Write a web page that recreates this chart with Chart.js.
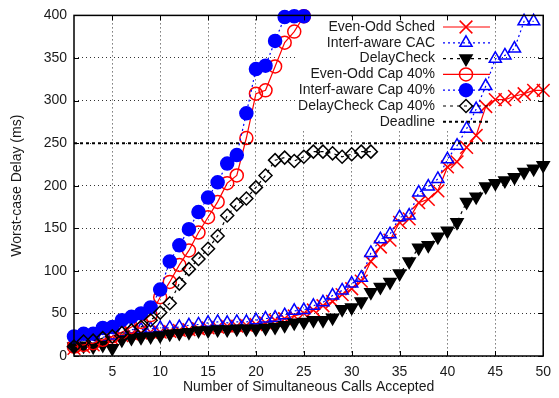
<!DOCTYPE html>
<html>
<head>
<meta charset="utf-8">
<script src="https://cdn.jsdelivr.net/npm/chart.js@4"></script>
<style>
  body { margin: 0; background: #fff; }
  canvas { display: block; }
</style>
</head>
<body>
<canvas id="myChart" width="559" height="398" style="width:559px;height:398px"></canvas>
<script>
// x values (number of calls accepted)
const calls = [1,2,3,4,5,6,7,8,9,10,11,12,13,14,15,16,17,18,19,20,21,22,23,24,25,
               26,27,28,29,30,31,32,33,34,35,36,37,38,39,40,41,42,43,44,45,46,47,48,49,50];

// worst-case delay (ms)
const evenOddSched = [9,11,13,17,20,24,26,27,28,28, 29,30,31,32,33,34,35,35,36,37,
                      39,42,44,47,50,54,59,64,72,79, 88,111,128,136,157,161,180,184,194,222,
                      228,245,259,293,301,301,305,308,312,312];
const interfCAC = [14,15,17,22,24,28,31,31,32,33, 33,34,36,37,39,40,39,40,40,42,
                   44,45,48,53,54,59,63,71,77,85, 92,121,137,143,163,165,192,199,208,231,
                   247,267,290,317,349,353,361,393,393];
const delayCheck = [11,12,11,13,9,19,21,22,23,24, 26,27,28,30,30,31,31,32,32,32,
                    33,34,36,39,40,42,42,45,55,57, 64,75,81,87,97,111,127,130,140,147,
                    157,181,187,199,203,206,210,216,220,224];
const evenOddCap = [11,13,15,19,23,28,34,40,48,69, 87,107,124,145,163,181,203,212,256,308,
                    312,340,368,381,399];
const interfCap = [23,26,26,33,34,42,46,50,57,78, 111,130,149,169,186,204,226,236,285,337,
                   341,370,398,399,399];
const delayCheckCap = [11,17,18,21,23,27,30,34,42,51, 62,85,102,114,126,141,165,178,185,198,
                       212,230,233,229,234,240,240,238,234,237, 240,240];
const deadline = [250, 250];
const deadlineX = [1, 50];

const xTicks = [5,10,15,20,25,30,35,40,45,50];
const yTicks = [0,50,100,150,200,250,300,350,400];

function pts(xs, ys) { return ys.map((v, i) => ({x: xs[i], y: v})); }

const TXT = '#1a1a1a';
const FONT = '"Liberation Sans", Arial, Helvetica, sans-serif';

// white key background, drawn over the grid but under the curves
const keyBack = {
  id: 'keyBack',
  beforeDatasetsDraw(chart) {
    const ctx = chart.ctx;
    ctx.save();
    ctx.fillStyle = '#fff';
    ctx.fillRect(298, 18, 196, 113);
    ctx.restore();
  }
};

// gnuplot-like frame, inward ticks and key
const frame = {
  id: 'frame',
  afterDatasetsDraw(chart) {
    const {ctx, chartArea: a, scales: {x, y}} = chart;
    ctx.save();
    ctx.strokeStyle = '#000';
    ctx.lineWidth = 1;
    ctx.setLineDash([]);
    ctx.beginPath();
    xTicks.forEach(v => {
      const px = Math.round(x.getPixelForValue(v)) + 0.5;
      ctx.moveTo(px, a.bottom); ctx.lineTo(px, a.bottom - 5);
      ctx.moveTo(px, a.top); ctx.lineTo(px, a.top + 5);
    });
    yTicks.forEach(v => {
      const py = Math.round(y.getPixelForValue(v)) + 0.5;
      ctx.moveTo(a.left, py); ctx.lineTo(a.left + 5, py);
      ctx.moveTo(a.right, py); ctx.lineTo(a.right - 5, py);
    });
    ctx.stroke();
    ctx.lineWidth = 1.5;
    ctx.strokeRect(a.left, a.top, a.right - a.left, a.bottom - a.top);

    // key
    ctx.font = '14px ' + FONT;
    ctx.textAlign = 'right';
    ctx.textBaseline = 'middle';
    chart.data.datasets.forEach((ds, i) => {
      const yy = 27 + i * 15.8;
      ctx.fillStyle = TXT;
      ctx.fillText(ds.label, 435, yy);
      ctx.strokeStyle = ds.borderColor;
      ctx.lineWidth = ds.borderWidth;
      ctx.setLineDash(ds.borderDash || []);
      ctx.beginPath();
      ctx.moveTo(443, yy); ctx.lineTo(490, yy);
      ctx.stroke();
      ctx.setLineDash([]);
      if (ds.pointRadius > 0) {
        ctx.fillStyle = ds.pointBackgroundColor;
        ctx.strokeStyle = ds.pointBorderColor;
        ctx.lineWidth = ds.pointBorderWidth;
        Chart.helpers.drawPoint(ctx, {
          pointStyle: ds.pointStyle, radius: ds.pointRadius,
          rotation: ds.pointRotation || 0, borderWidth: ds.pointBorderWidth
        }, 466, yy);
      }
    });
    ctx.restore();
  }
};

function series(label, data, color, dash, style, radius, fill, extra) {
  return Object.assign({
    label: label,
    data: data,
    borderColor: color,
    borderWidth: 1.2,
    borderDash: dash,
    pointStyle: style,
    pointRadius: radius,
    pointBackgroundColor: fill,
    pointBorderColor: color,
    pointBorderWidth: 1.5,
    tension: 0,
    clip: false
  }, extra || {});
}

const ctx = document.getElementById('myChart');

const datasets = [
  series('Even-Odd Sched', pts(calls, evenOddSched), '#ff0000', [], 'crossRot', 9, '#ff0000'),
  series('Interf-aware CAC', pts(calls, interfCAC), '#0000ff', [2, 3], 'triangle', 7, 'rgba(0,0,0,0)'),
  series('DelayCheck', pts(calls, delayCheck), '#000000', [3, 4], 'triangle', 7, '#000000', {pointRotation: 180}),
  series('Even-Odd Cap 40%', pts(calls, evenOddCap), '#ff0000', [], 'circle', 6.5, 'rgba(0,0,0,0)'),
  series('Interf-aware Cap 40%', pts(calls, interfCap), '#0000ff', [2, 3], 'circle', 6.5, '#0000ff'),
  series('DelayCheck Cap 40%', pts(calls, delayCheckCap), '#000000', [3, 4], 'rectRot', 6.5, 'rgba(0,0,0,0)'),
  series('Deadline', pts(deadlineX, deadline), '#000000', [3, 3], 'circle', 0, '#000000', {borderWidth: 2})
];
datasets.forEach((d, i) => { d.order = 10 - i; });

const myChart = new Chart(ctx, {
  type: 'line',
  data: { datasets: datasets },
  options: {
    responsive: false,
    animation: false,
    events: [],
    layout: { padding: { top: 15, right: 13, left: 0, bottom: 0 } },
    plugins: { legend: { display: false }, tooltip: { enabled: false } },
    scales: {
      x: {
        type: 'linear',
        min: 1, max: 50,
        afterBuildTicks: s => { s.ticks = xTicks.map(v => ({ value: v })); },
        afterFit: s => { s.height = 42; },
        grid: { color: 'rgba(0,0,0,0.8)', lineWidth: 1, drawTicks: false },
        border: { display: false, dash: [1, 3] },
        ticks: { color: TXT, font: { size: 14, family: FONT }, padding: 8, maxRotation: 0 },
        title: { display: true, text: 'Number of Simultaneous Calls Accepted', color: TXT,
                 font: { size: 14, family: FONT }, padding: { top: 0, bottom: 2 } }
      },
      y: {
        min: 0, max: 400,
        afterBuildTicks: s => { s.ticks = yTicks.map(v => ({ value: v })); },
        afterFit: s => { s.width = 74; },
        grid: { color: 'rgba(0,0,0,0.8)', lineWidth: 1, drawTicks: false },
        border: { display: false, dash: [1, 3] },
        ticks: { color: TXT, font: { size: 14, family: FONT }, padding: 7 },
        title: { display: true, text: 'Worst-case Delay (ms)', color: TXT,
                 font: { size: 14, family: FONT }, padding: { top: 9, bottom: 0 } }
      }
    }
  },
  plugins: [keyBack, frame]
});
</script>
</body>
</html>
